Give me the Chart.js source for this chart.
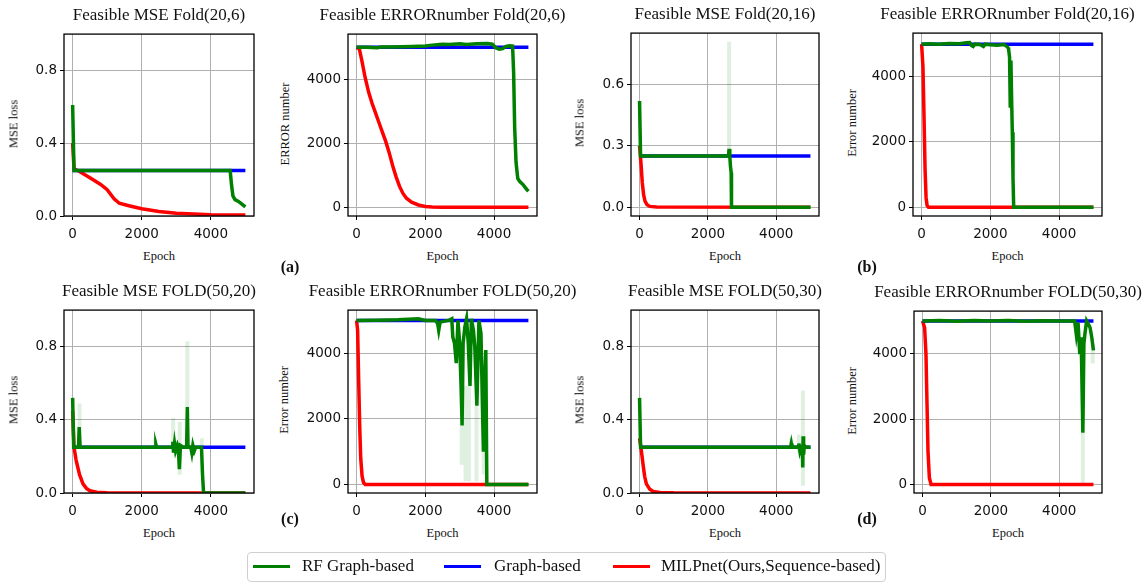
<!DOCTYPE html>
<html>
<head>
<meta charset="utf-8">
<script src="https://cdn.jsdelivr.net/npm/chart.js@4.4.0/dist/chart.umd.min.js"></script>
<style>
  body { margin: 0; background: #fff; width: 1146px; height: 582px; position: relative; overflow: hidden;
         font-family: "Liberation Serif", "Times New Roman", serif; color: #111; }
  canvas { position: absolute; }
  .txt { position: absolute; white-space: nowrap; transform: translate(-50%, -50%); }
  .title { font-size: 17px; }
  .axlab { font-size: 12.5px; }
  .ylab { transform: translate(-50%, -50%) rotate(-90deg); }
  .plabel { font-size: 16px; font-weight: bold; }
  #legend { position: absolute; left: 247px; top: 552px; width: 637px; height: 28px;
            border: 1px solid #cfcfcf; border-radius: 4px; }
  .lg-line { position: absolute; height: 3px; width: 37px; }
  .lg-text { position: absolute; font-size: 17px; transform: translateY(-50%); white-space: nowrap; }
</style>
</head>
<body>
<div id="legend"></div>
<script>
// --- Ticks ---
const epochTicks = [0, 2000, 4000];
const mseTicks = [0, 0.4, 0.8];
const mseTicksB = [0, 0.3, 0.6];
const errTicks = [0, 2000, 4000];

// --- (a) Fold(20,6) ---  [epoch, value]
const rfMse_20_6 = [[0,0.61],[40,0.25],[4560,0.25],[4600,0.17],[4640,0.11],[4700,0.09],[4800,0.08],[4900,0.065],[5000,0.05]];
const gbMse_20_6 = [[0,0.25],[5000,0.25]];
const milpMse_20_6 = [[0,0.40],[40,0.26],[200,0.245],[500,0.21],[800,0.175],[900,0.16],[1000,0.145],[1200,0.095],[1350,0.07],[1600,0.058],[2000,0.04],[2500,0.025],[3000,0.015],[4000,0.007],[5000,0.005]];

const rfErr_20_6 = [[0,5000],[300,5000],[600,4990],[700,5010],[1000,5010],[1300,5020],[1600,5030],[2000,5040],[2200,5070],[2500,5100],[2700,5090],[3000,5110],[3200,5090],[3500,5110],[3800,5120],[3950,5100],[4050,4990],[4150,4940],[4250,4960],[4350,5030],[4450,5050],[4540,5040],[4570,4200],[4600,2500],[4640,1400],[4690,900],[4750,800],[4850,700],[4950,560],[5000,500]];
const gbErr_20_6 = [[0,5000],[5000,5000]];
const milpErr_20_6 = [[0,5000],[80,4950],[150,4600],[250,4050],[350,3600],[450,3250],[550,2950],[650,2650],[750,2350],[850,2050],[950,1700],[1050,1300],[1150,950],[1250,650],[1350,430],[1450,280],[1600,160],[1800,70],[2000,25],[2200,5],[2500,0],[5000,0]];

// --- (b) Fold(20,16) ---
const rfMse_20_16 = [[0,0.52],[30,0.25],[2600,0.25],[2620,0.285],[2640,0.25],[2660,0.2],[2680,0.17],[2690,0.0],[5000,0.0]];
const gbMse_20_16 = [[0,0.25],[5000,0.25]];
const milpMse_20_16 = [[0,0.30],[40,0.22],[80,0.12],[120,0.06],[160,0.03],[220,0.012],[300,0.004],[500,0.001],[5000,0]];
const faintMse_20_16 = [[2620,0.25],[2620,0.81]];

const rfErr_20_16 = [[0,5000],[200,5010],[500,5000],[800,5020],[1100,5010],[1300,5040],[1400,5050],[1450,4960],[1500,4930],[1550,5000],[1700,4990],[1800,4930],[1850,5000],[2000,4980],[2200,4970],[2400,4990],[2480,4930],[2530,4870],[2560,4600],[2580,3100],[2600,4500],[2620,3300],[2640,2300],[2660,900],[2680,0],[5000,0]];
const gbErr_20_16 = [[0,5000],[5000,5000]];
const milpErr_20_16 = [[0,5000],[40,4300],[70,2800],[100,1200],[130,300],[160,50],[200,0],[5000,0]];

// --- (c) FOLD(50,20) ---
const rfMse_50_20 = [[0,0.52],[30,0.25],[170,0.25],[190,0.36],[215,0.25],[2390,0.25],[2410,0.265],[2430,0.25],[2880,0.25],[2900,0.28],[2920,0.22],[2950,0.27],[2980,0.23],[3030,0.26],[3060,0.24],[3090,0.13],[3120,0.26],[3200,0.25],[3300,0.25],[3320,0.47],[3340,0.25],[3420,0.25],[3450,0.22],[3480,0.26],[3520,0.23],[3560,0.25],[3730,0.25],[3760,0.1],[3790,0.0],[5000,0.0]];
const gbMse_50_20 = [[0,0.25],[5000,0.25]];
const milpMse_50_20 = [[0,0.45],[40,0.25],[100,0.18],[200,0.1],[300,0.05],[400,0.025],[500,0.012],[700,0.004],[1000,0.001],[5000,0]];
const faintMse_50_20 = [[200,0.25],[200,0.49],[200,null],[2390,0.25],[2390,0.30],[2390,null],[2910,0.25],[2910,0.41],[2910,null],[3100,0.1],[3100,0.39],[3100,null],[3320,0.47],[3320,0.83],[3320,null],[3520,0.21],[3520,0.25],[3520,null],[3740,0.25],[3740,0.30]];

const rfErr_50_20 = [[0,5000],[600,5010],[1200,5020],[1800,5050],[2000,5000],[2300,5000],[2360,4900],[2390,4700],[2430,4950],[2700,5010],[2770,5050],[2800,4500],[2850,4300],[2900,3700],[2950,5000],[3000,4300],[3040,3000],[3070,1800],[3100,4300],[3150,4800],[3200,5050],[3250,4300],[3300,3000],[3340,5050],[3400,4700],[3440,4200],[3500,2400],[3560,5000],[3620,4600],[3660,2500],[3690,1000],[3720,3000],[3760,4100],[3790,0],[5000,0]];
const gbErr_50_20 = [[0,5000],[5000,5000]];
const milpErr_50_20 = [[0,5000],[30,4700],[60,3200],[90,1800],[120,800],[160,250],[200,60],[250,0],[5000,0]];
const faintErr_50_20 = [[3060,600],[3060,2000],[3060,null],[3170,100],[3170,3000],[3170,null],[3270,100],[3270,3000],[3270,null],[3490,100],[3490,2400],[3490,null],[3700,300],[3700,1000]];

// --- (d) FOLD(50,30) ---
const rfMse_50_30 = [[0,0.52],[30,0.25],[4420,0.25],[4440,0.27],[4460,0.25],[4640,0.25],[4660,0.27],[4690,0.23],[4720,0.25],[4760,0.24],[4775,0.14],[4785,0.31],[4800,0.21],[4820,0.26],[4850,0.25],[5000,0.25]];
const gbMse_50_30 = [[0,0.25],[5000,0.25]];
const milpMse_50_30 = [[0,0.30],[40,0.25],[100,0.16],[150,0.09],[200,0.05],[300,0.02],[400,0.008],[600,0.003],[1000,0.001],[5000,0]];
const faintMse_50_30 = [[4430,0.25],[4430,0.30],[4430,null],[4660,0.22],[4660,0.32],[4660,null],[4780,0.04],[4780,0.56]];

const rfErr_50_30 = [[0,5000],[500,5010],[1000,4990],[1500,5010],[2000,5000],[2500,5010],[3000,4990],[3500,5005],[4000,4995],[4450,5000],[4500,4580],[4550,4950],[4600,3980],[4640,4500],[4690,1580],[4720,4300],[4750,4600],[4800,5000],[4850,4900],[4900,4800],[4950,4500],[5000,4100]];
const gbErr_50_30 = [[0,5000],[5000,5000]];
const milpErr_50_30 = [[0,5000],[60,4800],[100,4000],[130,2500],[160,1000],[200,200],[250,0],[5000,0]];
const faintErr_50_30 = [[4690,0],[4690,1580],[4690,null],[4980,3700],[4980,4300]];

// --- Layout (plot boxes in page px) ---
const PAD_L = 50, PAD_R = 8, PAD_T = 8, PAD_B = 30;
const panels = [
  { box:[64,31,254,216],  y:[0,1],        ticks:mseTicks,  dec:1, rf:rfMse_20_6,  gb:gbMse_20_6,  milp:milpMse_20_6,  faint:[], title:'Feasible MSE Fold(20,6)', ylabel:'MSE loss', ylx:13.5 },
  { box:[348,31,537,216], y:[-275,5415],  ticks:errTicks,  dec:0, rf:rfErr_20_6,  gb:gbErr_20_6,  milp:milpErr_20_6,  faint:[], title:'Feasible ERRORnumber Fold(20,6)', ylabel:'ERROR number', ylx:285 },
  { box:[631,30,819,216], y:[-0.043,0.852], ticks:mseTicksB, dec:1, rf:rfMse_20_16, gb:gbMse_20_16, milp:milpMse_20_16, faint:faintMse_20_16, title:'Feasible MSE Fold(20,16)', ylabel:'MSE loss', ylx:580 },
  { box:[913,30,1102,216], y:[-271,5339], ticks:errTicks,  dec:0, rf:rfErr_20_16, gb:gbErr_20_16, milp:milpErr_20_16, faint:[], title:'Feasible ERRORnumber Fold(20,16)', ylabel:'Error number', ylx:852 },
  { box:[64,307,254,493], y:[0,1],        ticks:mseTicks,  dec:1, rf:rfMse_50_20, gb:gbMse_50_20, milp:milpMse_50_20, faint:faintMse_50_20, title:'Feasible MSE FOLD(50,20)', ylabel:'MSE loss', ylx:13.5 },
  { box:[348,307,537,493], y:[-261,5316], ticks:errTicks,  dec:0, rf:rfErr_50_20, gb:gbErr_50_20, milp:milpErr_50_20, faint:faintErr_50_20, title:'Feasible ERRORnumber FOLD(50,20)', ylabel:'Error number', ylx:284 },
  { box:[631,307,819,493], y:[0,1],       ticks:mseTicks,  dec:1, rf:rfMse_50_30, gb:gbMse_50_30, milp:milpMse_50_30, faint:faintMse_50_30, title:'Feasible MSE FOLD(50,30)', ylabel:'MSE loss', ylx:580 },
  { box:[914,308,1102,493], y:[-261,5300], ticks:errTicks, dec:0, rf:rfErr_50_30, gb:gbErr_50_30, milp:milpErr_50_30, faint:faintErr_50_30, title:'Feasible ERRORnumber FOLD(50,30)', ylabel:'Error number', ylx:852 }
];
const panelLabels = [['(a)',290,267],['(b)',867,267],['(c)',290,519],['(d)',867,519]];

const GREEN = '#008000', BLUE = '#0000ff', RED = '#ff0000', FAINT = 'rgba(0,128,0,0.12)';

const toXY = arr => arr.map(p => ({ x: p[0], y: p[1] }));

function addText(cls, text, x, y) {
  const el = document.createElement('div');
  el.className = 'txt ' + cls;
  el.textContent = text;
  el.style.left = x + 'px';
  el.style.top = y + 'px';
  document.body.appendChild(el);
}

// spines drawn over the lines like matplotlib
const framePlugin = {
  id: 'frame',
  afterDatasetsDraw(chart) {
    const { ctx, chartArea: a } = chart;
    ctx.save();
    ctx.strokeStyle = '#000';
    ctx.lineWidth = 1.3;
    ctx.strokeRect(a.left, a.top, a.right - a.left, a.bottom - a.top);
    ctx.restore();
  }
};

function tickScale(vals, fmt) {
  return {
    afterBuildTicks: s => { s.ticks = vals.map(v => ({ value: v })); },
    grid: { color: '#b0b0b0', lineWidth: 1, tickColor: '#000', tickLength: 4, drawTicks: true },
    border: { display: false },
    ticks: { font: { family: 'DejaVu Sans', size: 13.5 }, color: '#111', padding: 3, maxRotation: 0, autoSkip: false, callback: fmt }
  };
}

function makePanel(p) {
  const [l, t, r, b] = p.box;
  const canvas = document.createElement('canvas');
  const w = r - l + PAD_L + PAD_R, h = b - t + PAD_T + PAD_B;
  canvas.width = w; canvas.height = h;
  canvas.style.left = (l - PAD_L) + 'px';
  canvas.style.top = (t - PAD_T) + 'px';
  document.body.appendChild(canvas);

  const line = (data, color, width) => ({
    data: toXY(data), borderColor: color, borderWidth: width,
    pointRadius: 0, spanGaps: false, tension: 0, fill: false
  });

  const xs = tickScale(epochTicks, v => String(v));
  xs.type = 'linear'; xs.min = -250; xs.max = 5250;
  xs.ticks.padding = 6;
  xs.afterFit = s => { s.height = PAD_B; };

  const ys = tickScale(p.ticks, v => p.dec ? v.toFixed(p.dec) : String(v));
  ys.type = 'linear'; ys.min = p.y[0]; ys.max = p.y[1];
  ys.afterFit = s => { s.width = PAD_L; };

  new Chart(canvas.getContext('2d'), {
    type: 'line',
    data: {
      datasets: [
        line(p.rf, GREEN, 3.5),
        line(p.gb, BLUE, 3.5),
        line(p.milp, RED, 3.5),
        line(p.faint, FAINT, 4)
      ]
    },
    options: {
      responsive: false, animation: false, devicePixelRatio: 1,
      layout: { padding: { top: PAD_T, right: PAD_R, left: 0, bottom: 0 } },
      plugins: { legend: { display: false }, tooltip: { enabled: false } },
      scales: { x: xs, y: ys }
    },
    plugins: [framePlugin]
  });

  addText('title', p.title, (l + r) / 2, t - 16);
  addText('axlab ylab', p.ylabel, p.ylx, (t + b) / 2);
  addText('axlab', 'Epoch', (l + r) / 2, b + 40);
}

panels.forEach(makePanel);
panelLabels.forEach(([s, x, y]) => addText('plabel', s, x, y));

// --- Figure legend ---
const legendItems = [
  ['RF Graph-based', GREEN, 253, 302],
  ['Graph-based', BLUE, 444, 494],
  ['MILPnet(Ours,Sequence-based)', RED, 613, 661]
];
legendItems.forEach(([label, color, lx, tx]) => {
  const ln = document.createElement('div');
  ln.className = 'lg-line';
  ln.style.background = color;
  ln.style.left = lx + 'px';
  ln.style.top = '565px';
  document.body.appendChild(ln);
  const tx_ = document.createElement('div');
  tx_.className = 'lg-text';
  tx_.textContent = label;
  tx_.style.left = tx + 'px';
  tx_.style.top = '566px';
  document.body.appendChild(tx_);
});
</script>
</body>
</html>
